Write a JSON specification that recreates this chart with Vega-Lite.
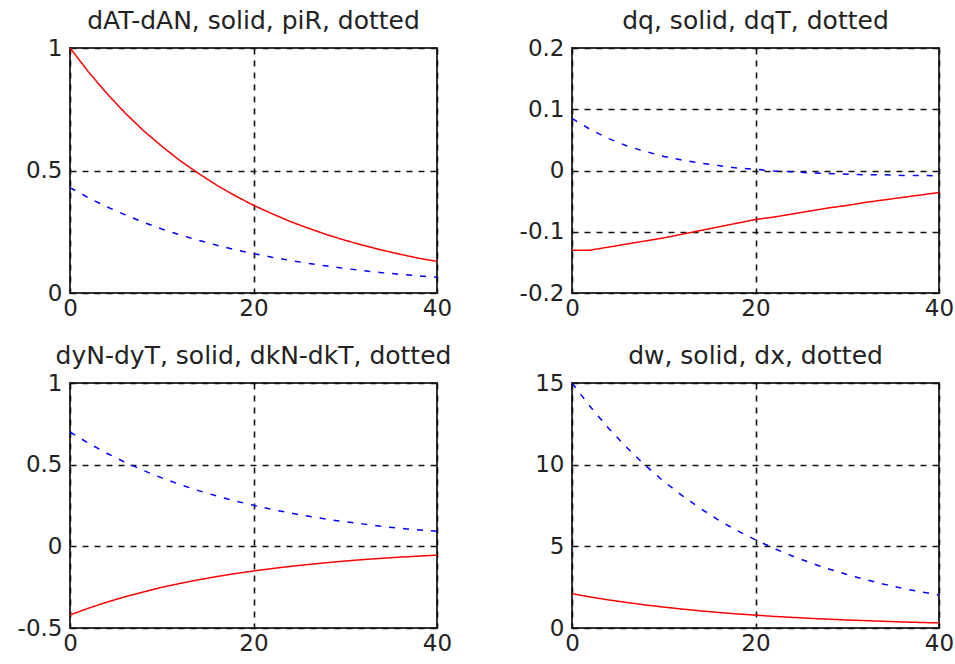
{
  "$schema": "https://vega.github.io/schema/vega-lite/v6.json",
  "padding": {"left": 16, "top": 8, "right": 10, "bottom": 5},
  "background": "white",
  "config": {
    "view": {"stroke": "#333333", "strokeWidth": 2},
    "font": "DejaVu Sans",
    "title": {"font": "DejaVu Sans", "fontSize": 25, "fontWeight": "normal", "color": "#222222", "anchor": "middle", "offset": 3},
    "axis": {
      "title": null,
      "ticks": false,
      "domain": false,
      "grid": true,
      "gridColor": "#111111",
      "gridDash": [6, 6],
      "gridWidth": 1.6,
      "gridOpacity": 1,
      "labelFont": "DejaVu Sans",
      "labelFontSize": 23,
      "labelColor": "#222222",
      "labelPadding": 8,
      "labelExpr": "'' + datum.value",
      "labelOverlap": false,
      "labelFlush": false
    },
    "axisX": {"labelPadding": 4}
  },
  "datasets": {
    "p1": [
      {"t":0,"solid":1.000,"dotted":0.430},{"t":2,"solid":0.903,"dotted":0.389},{"t":4,"solid":0.815,"dotted":0.352},{"t":6,"solid":0.735,"dotted":0.319},{"t":8,"solid":0.663,"dotted":0.289},{"t":10,"solid":0.599,"dotted":0.261},{"t":12,"solid":0.540,"dotted":0.237},{"t":14,"solid":0.488,"dotted":0.215},{"t":16,"solid":0.440,"dotted":0.195},{"t":18,"solid":0.397,"dotted":0.177},{"t":20,"solid":0.358,"dotted":0.161},{"t":22,"solid":0.324,"dotted":0.146},{"t":24,"solid":0.292,"dotted":0.133},{"t":26,"solid":0.264,"dotted":0.121},{"t":28,"solid":0.238,"dotted":0.110},{"t":30,"solid":0.215,"dotted":0.100},{"t":32,"solid":0.194,"dotted":0.091},{"t":34,"solid":0.175,"dotted":0.083},{"t":36,"solid":0.158,"dotted":0.076},{"t":38,"solid":0.142,"dotted":0.070},{"t":40,"solid":0.129,"dotted":0.064}
    ],
    "p2": [
      {"t":0,"solid":-0.130,"dotted":0.085},{"t":2,"solid":-0.130,"dotted":0.067},{"t":4,"solid":-0.125,"dotted":0.052},{"t":6,"solid":-0.120,"dotted":0.040},{"t":8,"solid":-0.115,"dotted":0.031},{"t":10,"solid":-0.110,"dotted":0.023},{"t":12,"solid":-0.104,"dotted":0.017},{"t":14,"solid":-0.098,"dotted":0.012},{"t":16,"solid":-0.092,"dotted":0.008},{"t":18,"solid":-0.086,"dotted":0.004},{"t":20,"solid":-0.080,"dotted":0.002},{"t":22,"solid":-0.076,"dotted":-0.001},{"t":24,"solid":-0.071,"dotted":-0.002},{"t":26,"solid":-0.066,"dotted":-0.004},{"t":28,"solid":-0.061,"dotted":-0.005},{"t":30,"solid":-0.057,"dotted":-0.006},{"t":32,"solid":-0.052,"dotted":-0.007},{"t":34,"solid":-0.048,"dotted":-0.007},{"t":36,"solid":-0.044,"dotted":-0.008},{"t":38,"solid":-0.040,"dotted":-0.008},{"t":40,"solid":-0.036,"dotted":-0.009}
    ],
    "p3": [
      {"t":0,"solid":-0.420,"dotted":0.700},{"t":2,"solid":-0.379,"dotted":0.632},{"t":4,"solid":-0.342,"dotted":0.570},{"t":6,"solid":-0.309,"dotted":0.515},{"t":8,"solid":-0.279,"dotted":0.464},{"t":10,"solid":-0.251,"dotted":0.419},{"t":12,"solid":-0.227,"dotted":0.378},{"t":14,"solid":-0.205,"dotted":0.341},{"t":16,"solid":-0.185,"dotted":0.308},{"t":18,"solid":-0.167,"dotted":0.278},{"t":20,"solid":-0.151,"dotted":0.251},{"t":22,"solid":-0.136,"dotted":0.226},{"t":24,"solid":-0.123,"dotted":0.204},{"t":26,"solid":-0.111,"dotted":0.184},{"t":28,"solid":-0.100,"dotted":0.166},{"t":30,"solid":-0.090,"dotted":0.150},{"t":32,"solid":-0.081,"dotted":0.136},{"t":34,"solid":-0.073,"dotted":0.122},{"t":36,"solid":-0.066,"dotted":0.110},{"t":38,"solid":-0.060,"dotted":0.100},{"t":40,"solid":-0.054,"dotted":0.092}
    ],
    "p4": [
      {"t":0,"solid":2.10,"dotted":15.00},{"t":2,"solid":1.90,"dotted":13.54},{"t":4,"solid":1.72,"dotted":12.22},{"t":6,"solid":1.56,"dotted":11.03},{"t":8,"solid":1.41,"dotted":9.95},{"t":10,"solid":1.28,"dotted":8.98},{"t":12,"solid":1.16,"dotted":8.11},{"t":14,"solid":1.05,"dotted":7.32},{"t":16,"solid":0.95,"dotted":6.60},{"t":18,"solid":0.86,"dotted":5.96},{"t":20,"solid":0.79,"dotted":5.40},{"t":22,"solid":0.71,"dotted":4.88},{"t":24,"solid":0.65,"dotted":4.41},{"t":26,"solid":0.59,"dotted":3.99},{"t":28,"solid":0.54,"dotted":3.61},{"t":30,"solid":0.49,"dotted":3.27},{"t":32,"solid":0.45,"dotted":2.96},{"t":34,"solid":0.41,"dotted":2.68},{"t":36,"solid":0.37,"dotted":2.43},{"t":38,"solid":0.34,"dotted":2.21},{"t":40,"solid":0.31,"dotted":2.02}
    ]
  },
  "columns": 2,
  "bounds": "flush",
  "spacing": {"row": 90, "column": 135},
  "concat": [
    {
      "title": "dAT-dAN, solid, piR, dotted",
      "width": 367, "height": 245,
      "data": {"name": "p1"},
      "transform": [{"fold": ["solid", "dotted"], "as": ["s", "v"]}],
      "mark": {"type": "line", "strokeWidth": 1.5, "clip": true},
      "encoding": {
        "x": {"field": "t", "type": "quantitative", "scale": {"domain": [0, 40], "nice": false}, "axis": {"values": [0, 20, 40]}},
        "y": {"field": "v", "type": "quantitative", "scale": {"domain": [0, 1], "nice": false, "zero": false}, "axis": {"values": [0, 0.5, 1]}},
        "color": {"field": "s", "type": "nominal", "scale": {"domain": ["solid", "dotted"], "range": ["#ff0000", "#0000ff"]}, "legend": null},
        "strokeDash": {"field": "s", "type": "nominal", "scale": {"domain": ["solid", "dotted"], "range": [[1, 0], [6, 8]]}, "legend": null}
      }
    },
    {
      "title": "dq, solid, dqT, dotted",
      "width": 367, "height": 245,
      "data": {"name": "p2"},
      "transform": [{"fold": ["solid", "dotted"], "as": ["s", "v"]}],
      "mark": {"type": "line", "strokeWidth": 1.5, "clip": true},
      "encoding": {
        "x": {"field": "t", "type": "quantitative", "scale": {"domain": [0, 40], "nice": false}, "axis": {"values": [0, 20, 40]}},
        "y": {"field": "v", "type": "quantitative", "scale": {"domain": [-0.2, 0.2], "nice": false, "zero": false}, "axis": {"values": [-0.2, -0.1, 0, 0.1, 0.2]}},
        "color": {"field": "s", "type": "nominal", "scale": {"domain": ["solid", "dotted"], "range": ["#ff0000", "#0000ff"]}, "legend": null},
        "strokeDash": {"field": "s", "type": "nominal", "scale": {"domain": ["solid", "dotted"], "range": [[1, 0], [6, 8]]}, "legend": null}
      }
    },
    {
      "title": "dyN-dyT, solid, dkN-dkT, dotted",
      "width": 367, "height": 245,
      "data": {"name": "p3"},
      "transform": [{"fold": ["solid", "dotted"], "as": ["s", "v"]}],
      "mark": {"type": "line", "strokeWidth": 1.5, "clip": true},
      "encoding": {
        "x": {"field": "t", "type": "quantitative", "scale": {"domain": [0, 40], "nice": false}, "axis": {"values": [0, 20, 40]}},
        "y": {"field": "v", "type": "quantitative", "scale": {"domain": [-0.5, 1], "nice": false, "zero": false}, "axis": {"values": [-0.5, 0, 0.5, 1]}},
        "color": {"field": "s", "type": "nominal", "scale": {"domain": ["solid", "dotted"], "range": ["#ff0000", "#0000ff"]}, "legend": null},
        "strokeDash": {"field": "s", "type": "nominal", "scale": {"domain": ["solid", "dotted"], "range": [[1, 0], [6, 8]]}, "legend": null}
      }
    },
    {
      "title": "dw, solid, dx, dotted",
      "width": 367, "height": 245,
      "data": {"name": "p4"},
      "transform": [{"fold": ["solid", "dotted"], "as": ["s", "v"]}],
      "mark": {"type": "line", "strokeWidth": 1.5, "clip": true},
      "encoding": {
        "x": {"field": "t", "type": "quantitative", "scale": {"domain": [0, 40], "nice": false}, "axis": {"values": [0, 20, 40]}},
        "y": {"field": "v", "type": "quantitative", "scale": {"domain": [0, 15], "nice": false, "zero": false}, "axis": {"values": [0, 5, 10, 15]}},
        "color": {"field": "s", "type": "nominal", "scale": {"domain": ["solid", "dotted"], "range": ["#ff0000", "#0000ff"]}, "legend": null},
        "strokeDash": {"field": "s", "type": "nominal", "scale": {"domain": ["solid", "dotted"], "range": [[1, 0], [6, 8]]}, "legend": null}
      }
    }
  ]
}
